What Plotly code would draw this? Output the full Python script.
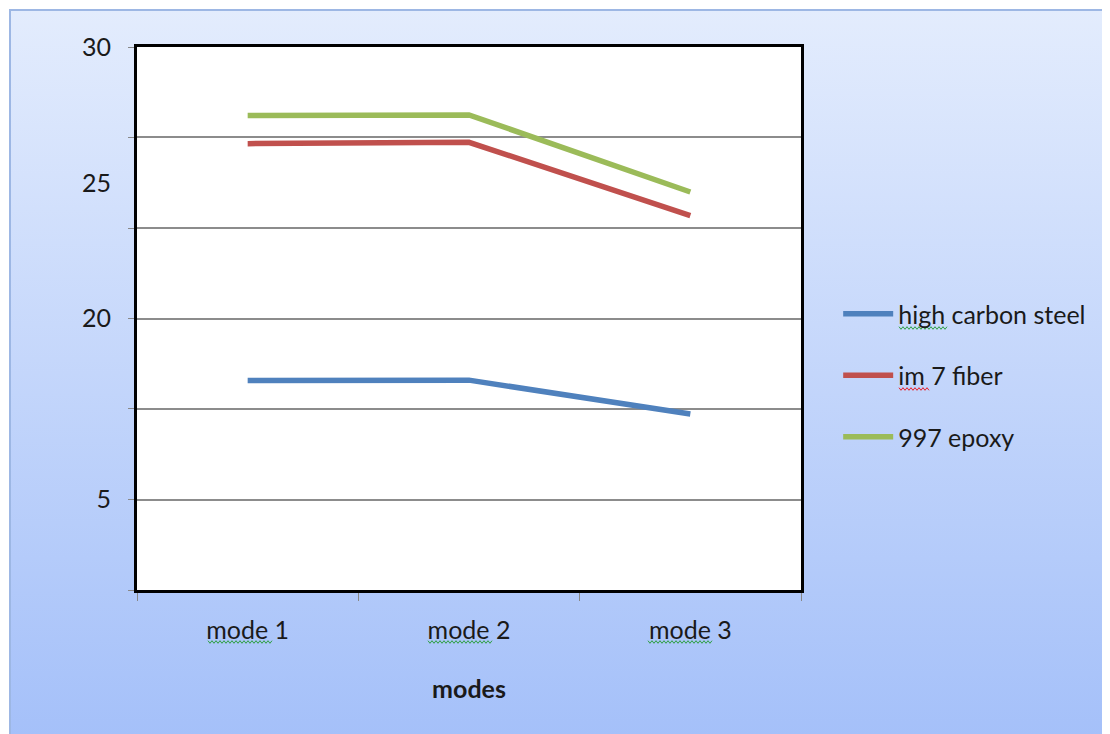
import base64
import plotly.graph_objects as go

# ---- data ----
modes = ["mode 1", "mode 2", "mode 3"]
high_carbon_steel = [17.72, 17.73, 16.48]
im7_fiber = [26.44, 26.49, 23.79]
epoxy_997 = [27.48, 27.50, 24.66]
series_names = ["high carbon steel", "im 7 fiber", "997 epoxy"]
series_colors = ["#4F81BD", "#C0504D", "#9BBB59"]

y_range = [10, 30]
grid_vals = [10, 13.333, 16.667, 20, 23.333, 26.667, 30]
label_vals = [30, 25, 20, 13.333]
label_text = ["30", "25", "20", "5"]

OFF = 8  # browser body margin
W, H = 1110 - OFF, 734 - OFF
ML, MR, MT, MB = 137 - OFF, 1110 - 801, 47 - OFF, 734 - 590
PW, PH = W - ML - MR, H - MT - MB

FONT = "Lato"
FS = 25

fig = go.Figure()
for name, vals, col in zip(series_names, [high_carbon_steel, im7_fiber, epoxy_997], series_colors):
    fig.add_trace(go.Scatter(x=modes, y=vals, mode="lines", name=name, legendgroup=name,
                             line=dict(color=col, width=5.5)))

bx = 10 - OFF
svg = (
    f'<svg xmlns="http://www.w3.org/2000/svg" width="{W}" height="{H}">'
    '<defs><linearGradient id="g" x1="0" y1="0" x2="0" y2="1">'
    '<stop offset="0" stop-color="#E3ECFD"/><stop offset="1" stop-color="#A3BFF9"/>'
    '</linearGradient></defs>'
    f'<rect width="{W}" height="{H}" fill="white"/>'
    f'<rect x="{bx}" y="{bx}" width="{W+20}" height="{H+20}" fill="url(#g)" stroke="#9DB7E4" stroke-width="2"/>'
    '</svg>'
)
src = "data:image/svg+xml;base64," + base64.b64encode(svg.encode()).decode()


def squiggle(x0, x1, y, color):
    """Spell-check style wavy underline, given in window pixels."""
    def px(x):
        return (x - OFF - ML) / PW

    def py(v):
        return 1 - (v - OFF - MT) / PH
    pts = []
    x = x0
    up = True
    while x <= x1:
        pts.append((px(x), py(y - 1.3 if up else y + 1.3)))
        up = not up
        x += 2
    d = "M" + " L".join(f"{a:.5f},{b:.5f}" for a, b in pts)
    return dict(type="path", path=d, xref="paper", yref="paper",
                line=dict(color=color, width=1), layer="above")


shapes = [dict(type="rect", xref="x domain", yref="y domain", x0=0, x1=1, y0=0, y1=1,
               fillcolor="white", line=dict(width=0), layer="below")]
GREEN_SQ = "#2EA043"
RED_SQ = "#E8202A"
for x0 in (208, 428, 648):
    shapes.append(squiggle(x0, x0 + 64, 642, GREEN_SQ))
shapes.append(squiggle(899, 947, 328, GREEN_SQ))
shapes.append(squiggle(899, 929, 389, RED_SQ))

fig.update_layout(
    width=W, height=H,
    margin=dict(l=ML, r=MR, t=MT, b=MB, pad=0),
    paper_bgcolor="white",
    plot_bgcolor="rgba(0,0,0,0)",
    font=dict(family=FONT, size=FS, color="#1a1a1a"),
    images=[dict(source=src, xref="paper", yref="paper",
                 x=-ML / PW, y=1 + MT / PH, sizex=W / PW, sizey=H / PH,
                 xanchor="left", yanchor="top", sizing="stretch", layer="below")],
    shapes=shapes,
    showlegend=True,
    legend=dict(x=1.056, y=0.395, xanchor="left", yanchor="middle",
                bgcolor="rgba(0,0,0,0)", font=dict(size=FS, family=FONT),
                tracegroupgap=26, itemwidth=50),
    xaxis=dict(
        type="category", showgrid=False, tickson="boundaries",
        ticks="outside", ticklen=8, tickcolor="#888888", tickwidth=1,
        showline=True, linecolor="black", linewidth=3, mirror=True,
        ticklabelstandoff=16,
        title=dict(text="<b>modes</b>", standoff=38, font=dict(size=FS, family=FONT)),
        range=[-0.5, 2.5],
    ),
    yaxis=dict(
        range=y_range, tickvals=label_vals, ticktext=label_text, ticks="",
        showgrid=False, zeroline=False,
        showline=True, linecolor="black", linewidth=3, mirror=True,
        ticklabelstandoff=18,
        minor=dict(tickvals=grid_vals, showgrid=True, gridcolor="#8c8c8c", gridwidth=1.5,
                   ticks="outside", ticklen=6, tickcolor="#888888"),
    ),
)

fig.write_html("out.html")
